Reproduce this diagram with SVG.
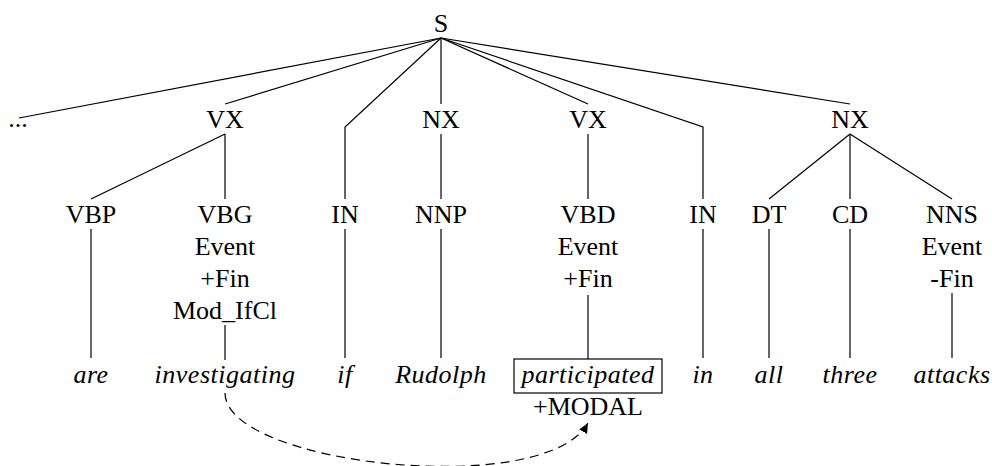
<svg xmlns="http://www.w3.org/2000/svg" width="992" height="466" viewBox="0 0 992 466">
<style>
text{font-family:'Liberation Serif','Times New Roman',Times,Tinos,'Nimbus Roman','Nimbus Roman No9 L','Noto Serif','DejaVu Serif',FreeSerif,Georgia,serif;font-size:26px;fill:#000;text-anchor:middle}
.w{font-style:italic;letter-spacing:0.5px}
.e line,.e polyline{stroke:#000;stroke-width:1.2;fill:none}
.d{stroke:#000;stroke-width:1.2;fill:none;stroke-dasharray:9 6}
</style>
<defs>
<marker id="ah" markerWidth="12" markerHeight="12" refX="10" refY="4.5" orient="auto" markerUnits="userSpaceOnUse">
<path d="M0,0 L10,4.5 L0,9 Z" fill="#000"/>
</marker>
</defs>
<rect width="992" height="466" fill="#fff"/>
<g id="connectors" class="e">
<line x1="441" y1="38" x2="19" y2="118"/>
<line x1="441" y1="38" x2="225" y2="104"/>
<polyline points="441,38 345,127 345,199"/>
<line x1="441" y1="38" x2="441" y2="104"/>
<line x1="441" y1="38" x2="588" y2="104"/>
<polyline points="441,38 703,127 703,199"/>
<line x1="441" y1="38" x2="850" y2="104"/>
<line x1="225" y1="134" x2="91" y2="199"/>
<line x1="225" y1="134" x2="225" y2="199"/>
<line x1="441" y1="134" x2="441" y2="199"/>
<line x1="588" y1="134" x2="588" y2="199"/>
<line x1="850" y1="134" x2="769" y2="199"/>
<line x1="850" y1="134" x2="850" y2="199"/>
<line x1="850" y1="134" x2="952" y2="199"/>
<line x1="91" y1="229" x2="91" y2="358"/>
<line x1="225" y1="325" x2="225" y2="360"/>
<line x1="345" y1="229" x2="345" y2="358"/>
<line x1="441" y1="229" x2="441" y2="358"/>
<line x1="588" y1="295" x2="588" y2="359"/>
<line x1="703" y1="229" x2="703" y2="358"/>
<line x1="769" y1="229" x2="769" y2="358"/>
<line x1="850" y1="229" x2="850" y2="358"/>
<line x1="952" y1="293" x2="952" y2="358"/>
<path class="d" d="M225,393 C225,465 545,500 588,423" marker-end="url(#ah)"/>
</g>
<g id="S"><text x="441" y="32">S</text></g>
<g id="dots"><text x="18" y="127">...</text></g>
<g id="VX1"><text x="225" y="128">VX</text></g>
<g id="NX1"><text x="441" y="128">NX</text></g>
<g id="VX2"><text x="588" y="128">VX</text></g>
<g id="NX2"><text x="850" y="128">NX</text></g>
<g id="VBP"><text x="91" y="223">VBP</text></g>
<g id="VBG"><text x="225" y="223">VBG</text><text x="225" y="255">Event</text><text x="225" y="287">+Fin</text><text x="225" y="319">Mod_IfCl</text></g>
<g id="IN1"><text x="345" y="223">IN</text></g>
<g id="NNP"><text x="441" y="223">NNP</text></g>
<g id="VBD"><text x="588" y="223">VBD</text><text x="588" y="255">Event</text><text x="588" y="287">+Fin</text></g>
<g id="IN2"><text x="703" y="223">IN</text></g>
<g id="DT"><text x="769" y="223">DT</text></g>
<g id="CD"><text x="850" y="223">CD</text></g>
<g id="NNS"><text x="952" y="223">NNS</text><text x="952" y="255">Event</text><text x="952" y="287">-Fin</text></g>
<g id="w-are"><text class="w" x="91" y="383">are</text></g>
<g id="w-investigating"><text class="w" x="225" y="383">investigating</text></g>
<g id="w-if"><text class="w" x="345" y="383">if</text></g>
<g id="w-Rudolph"><text class="w" x="441" y="383">Rudolph</text></g>
<g id="w-participated"><rect x="514" y="359" width="148" height="34" fill="none" stroke="#000" stroke-width="1.2"/><text class="w" x="588" y="383">participated</text><text x="588" y="415">+MODAL</text></g>
<g id="w-in"><text class="w" x="703" y="383">in</text></g>
<g id="w-all"><text class="w" x="769" y="383">all</text></g>
<g id="w-three"><text class="w" x="850" y="383">three</text></g>
<g id="w-attacks"><text class="w" x="952" y="383">attacks</text></g>
</svg>
